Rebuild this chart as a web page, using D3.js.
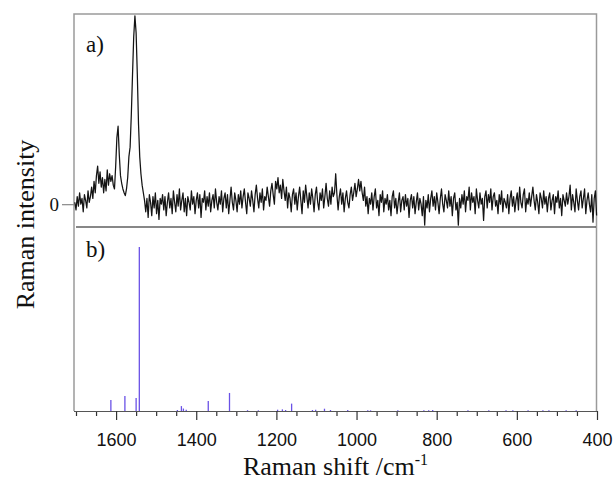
<!DOCTYPE html>
<html>
<head>
<meta charset="utf-8">
<script src="https://cdn.jsdelivr.net/npm/d3@7"></script>
<style>
  html, body { margin: 0; padding: 0; background: #fff; }
  svg { display: block; }
</style>
</head>
<body>
<svg id="chart" width="613" height="482"></svg>
<script>
// ---- Data ----
// (a) measured Raman spectrum, sampled every 3 cm-1 starting at 1703 cm-1 (intensity, arbitrary counts)
const spectrumStart = 1703;
const spectrumStep = 3;
const spectrumValues = [
  10, -30, 40, -10, 60, 0, 30, -40, 50, 20, -20, 70, 10, 40,
  90, 30, 120, 60, 150, 200, 110, 170, 90, 140, 60,
  130, 70, 180, 100, 160, 120, 150, 100,
  80, 200, 350, 410, 260, 150, 110, 80, 60, 45, 80, 140, 250, 300, 470, 680, 880, 990, 900, 680, 420, 250, 160, 100, 60, 20,
  -40, 30, -70, 50, 10, -60, 40, -20, 60, -50, 20, -80, 30, 0, 50, -30, 40, -60, 10, 60,
  -20, 30, -50, 70, 10, -40, 50, -10, 80, -30, 20, 60, -40, 30, -60, 40, 10, -30, 70, 0,
  40, -50, 20, 60, -20, 50, -70, 30, 10, 70, -30, 40, -10, 60, -40, 20, 50, -20, 80, 10,
  -30, 40, 0, 70, -40, 30, 60, -20, 50, -50, 20, 90, 10, -30, 60, 20, -40, 50, 0, 70,
  -20, 40, 80, 10, -50, 60, 30, -10, 70, 20, -40, 50, 100, 30, -20, 60, 10, 80, -30, 40,
  20, 90, 40, -10, 70, 110, 50, 0, 120, 80, 140, 60, 100, 30, 130, 70, 20, 90, -20, 60,
  30, -40, 50, 80, 0, 60, -30, 40, 90, 20, -50, 70, 10, 100, 40, -20, 60, 0, 80, 30,
  -40, 50, 90, 10, -30, 60, 20, 80, -20, 40, 110, 30, -10, 70, 0, 90, 40, 60, 160, 50,
  -30, 40, 80, 0, 60, -40, 30, 70, 10, -20, 50, 90, 20, 60, 110, 40, 80, 130, 70, 120,
  60, 20, 90, -10, 40, -50, 30, 0, 60, -30, 40, 80, -20, 20, -60, 50, 10, 70, -40, 30,
  0, 50, -30, 20, -60, 40, 70, -20, 30, -50, 10, 60, -40, 20, 40, -30, 50, -10, 30, -70,
  20, 50, -20, 40, -50, 10, 60, -30, 30, 0, -60, 40, -110, 20, -20, 50, -40, 30, 70, -10,
  40, -30, 60, 10, -50, 30, 80, 0, -40, 50, 20, -20, 70, -10, 40, -60, 30, 60, -30, 10,
  -110, 30, -20, 50, 0, 70, -40, 40, 20, 90, -30, 60, 10, 40, -50, 80, 20, -20, 60, 0,
  30, -85, 40, 70, -20, 50, 10, 80, -30, 40, 60, -10, 20, -50, 50, 0, 70, -40, 30, 10,
  -20, 50, -50, 30, 70, -10, 40, -40, 20, 60, -30, 90, 10, -20, 50, 80, -40, 30, 0, 60,
  -10, 40, 90, 20, -30, 50, 10, -50, 60, 30, -20, 70, 0, 40, -40, 30, 60, -30, 20, 50,
  -50, 40, 10, 70, -20, 30, -60, 50, 20, -10, 60, 0, 40, 100, -30, 50, 10, -40, 80, 20,
  -30, 40, 70, -20, 30, 80, -50, 20, 60, 0, -40, 50, -95, 30, 70, -60
];

// (b) calculated stick spectrum (relative intensity)
const stickShifts = [1613, 1578, 1550, 1542, 1447, 1437, 1432, 1425, 1370, 1317, 1272, 1245,
  1197, 1185, 1177, 1162, 1110, 1102, 1080, 1065, 1022, 972, 965, 897, 832, 820, 810,
  722, 670, 627, 610, 572, 535, 520, 477, 452];
const stickIntensities = [0.067, 0.091, 0.079, 1.0, 0.006, 0.03, 0.015, 0.008, 0.061, 0.11, 0.005, 0.004,
  0.008, 0.01, 0.006, 0.045, 0.006, 0.008, 0.014, 0.006, 0.006, 0.004, 0.004, 0.004, 0.004, 0.005, 0.006,
  0.005, 0.005, 0.004, 0.004, 0.004, 0.004, 0.005, 0.004, 0.004];

const majorTicks = [1600, 1400, 1200, 1000, 800, 600, 400];
const minorTicks = [1700, 1650, 1550, 1500, 1450, 1350, 1300, 1250, 1150, 1100, 1050, 950, 900, 850, 750, 700, 650, 550, 500, 450];
const xTitle = "Raman shift /cm";
const xTitleSup = "-1";
const yTitle = "Raman intensity";
const panelLabels = ["a)", "b)"];

// ---- Layout ----
const L = 74, R = 597, T = 14, MID = 227, B = 411;

const svg = d3.select("#chart");

const x = d3.scaleLinear().domain([1705, 400]).range([L, R]);
const yTop = d3.scaleLinear().domain([-120, 1000]).range([MID, T]);
const yBot = d3.scaleLinear().domain([0, 1]).range([B, 247]);

const spectrum = spectrumValues.map((v, i) => ({ wn: spectrumStart - i * spectrumStep, v }));

// frame
svg.append("path")
  .attr("d", `M${L},${B} V${T} H${R - 0.5} V${B}`)
  .attr("fill", "none").attr("stroke", "#9a9a9a").attr("stroke-width", 1.5);

// separator
svg.append("line")
  .attr("x1", L + 2).attr("x2", R - 1).attr("y1", MID).attr("y2", MID)
  .attr("stroke", "#111").attr("stroke-width", 1.2);

// spectrum line
svg.append("path")
  .datum(spectrum)
  .attr("fill", "none")
  .attr("stroke", "#141414")
  .attr("stroke-width", 1.25)
  .attr("stroke-linejoin", "round")
  .attr("d", d3.line().x(d => x(d.wn)).y(d => yTop(d.v)));

// zero tick on left of top panel
const yAxisTop = d3.axisLeft(yTop).tickValues([0]).tickSize(12).tickPadding(3).tickFormat(d3.format("d"));
const gy = svg.append("g").attr("transform", `translate(${L},0)`).call(yAxisTop);
gy.select(".domain").remove();
gy.selectAll(".tick line").attr("stroke", "#888").attr("stroke-width", 1.2);
gy.selectAll(".tick text")
  .attr("font-family", "'Liberation Serif', 'Times New Roman', serif")
  .attr("font-size", 19).attr("fill", "#111");

// sticks
svg.append("g").selectAll("line")
  .data(stickShifts.map((s, i) => ({ s, h: stickIntensities[i] })))
  .join("line")
  .attr("x1", d => x(d.s)).attr("x2", d => x(d.s))
  .attr("y1", yBot(0)).attr("y2", d => yBot(d.h))
  .attr("stroke", "#6a52e6").attr("stroke-width", 1.3);

// x axis: minor ticks
const gMinor = svg.append("g").attr("transform", `translate(0,${B})`)
  .call(d3.axisBottom(x).tickValues(minorTicks).tickSize(5).tickFormat(""));
gMinor.select(".domain").remove();
gMinor.selectAll(".tick line").attr("stroke", "#333").attr("stroke-width", 1.2);

// x axis: major ticks with labels
const gMajor = svg.append("g").attr("transform", `translate(0,${B})`)
  .call(d3.axisBottom(x).tickValues(majorTicks).tickSize(9).tickPadding(13).tickFormat(d3.format("d")));
gMajor.select(".domain").attr("d", `M${L},0.5H${R}`).attr("stroke", "#555").attr("stroke-width", 1.2);
gMajor.selectAll(".tick line").attr("stroke", "#333").attr("stroke-width", 1.2);
gMajor.selectAll(".tick text")
  .attr("font-family", "'Liberation Sans', Arial, sans-serif")
  .attr("font-size", 18).attr("fill", "#111");

// axis titles
const xt = svg.append("text")
  .attr("x", (L + R) / 2).attr("y", 475)
  .attr("text-anchor", "middle")
  .attr("font-family", "'Liberation Serif', 'Times New Roman', serif")
  .attr("font-size", 26).attr("fill", "#111");
xt.append("tspan").text(xTitle);
xt.append("tspan").attr("dy", -10).attr("font-size", 16).text(xTitleSup);

svg.append("text")
  .attr("transform", `translate(25,${(T + B) / 2 + 12}) rotate(-90)`)
  .attr("text-anchor", "middle")
  .attr("dominant-baseline", "central")
  .attr("font-family", "'Liberation Serif', 'Times New Roman', serif")
  .attr("font-size", 26).attr("fill", "#111")
  .text(yTitle);

// panel labels
svg.append("text").attr("x", 86).attr("y", 52)
  .attr("font-family", "'Liberation Serif', 'Times New Roman', serif")
  .attr("font-size", 23).attr("fill", "#111").text(panelLabels[0]);
svg.append("text").attr("x", 86).attr("y", 257)
  .attr("font-family", "'Liberation Serif', 'Times New Roman', serif")
  .attr("font-size", 23).attr("fill", "#111").text(panelLabels[1]);
</script>
</body>
</html>
